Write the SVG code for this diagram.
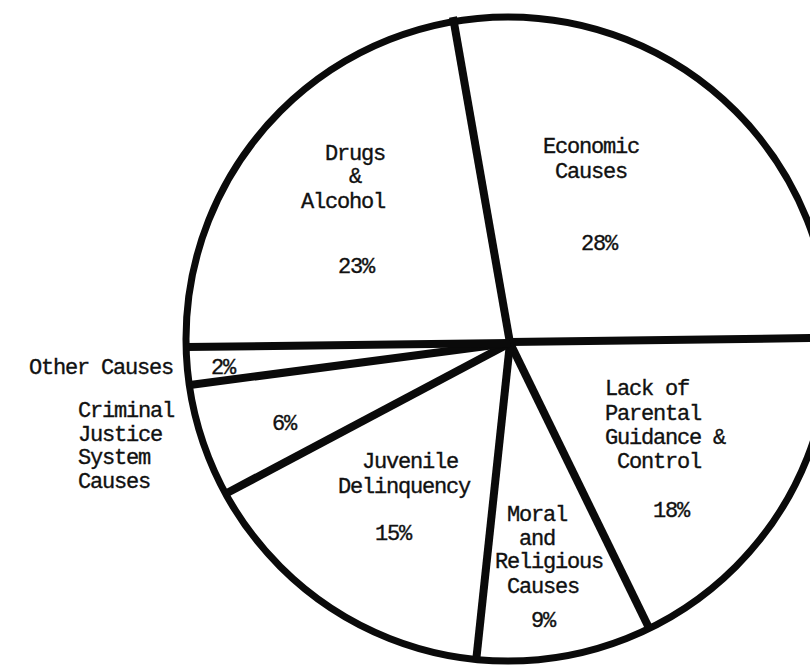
<svg xmlns="http://www.w3.org/2000/svg" width="810" height="665" viewBox="0 0 810 665">
<style>
  .t { font-family: "Liberation Mono", "DejaVu Sans Mono", monospace; font-size: 22px; letter-spacing: -1.2px; fill: #111; stroke: #111; stroke-width: 0.35; }
  .rim { fill: none; stroke: #0a0a0a; stroke-width: 7; }
  .sp { stroke: #0a0a0a; stroke-width: 8; stroke-linecap: butt; }
</style>
<rect width="810" height="665" fill="#ffffff"/>
<g id="pie">
  <ellipse class="rim" cx="508" cy="339" rx="322" ry="322"/>
</g>
<g id="connectors">
  <line class="sp" x1="510" y1="343" x2="453" y2="17"/>
  <line class="sp" x1="510" y1="342" x2="815" y2="338"/>
  <line class="sp" x1="510" y1="343" x2="650" y2="630"/>
  <line class="sp" x1="510" y1="343" x2="476" y2="662"/>
  <line class="sp" x1="510" y1="343" x2="227" y2="493"/>
  <line class="sp" x1="510" y1="343" x2="190" y2="385"/>
  <line class="sp" x1="510" y1="343" x2="186" y2="347"/>
</g>
<g id="drugs">
  <text class="t" x="325" y="160">Drugs</text>
  <text class="t" x="349" y="183">&amp;</text>
  <text class="t" x="301" y="208">Alcohol</text>
  <text class="t" x="338" y="273">23%</text>
</g>
<g id="economic">
  <text class="t" x="543" y="153">Economic</text>
  <text class="t" x="555" y="178">Causes</text>
  <text class="t" x="581" y="250">28%</text>
</g>
<g id="parental">
  <text class="t" x="605" y="395">Lack of</text>
  <text class="t" x="605" y="420">Parental</text>
  <text class="t" x="605" y="444">Guidance &amp;</text>
  <text class="t" x="617" y="468">Control</text>
  <text class="t" x="653" y="517">18%</text>
</g>
<g id="moral">
  <text class="t" x="507" y="521">Moral</text>
  <text class="t" x="519" y="545">and</text>
  <text class="t" x="495" y="568">Religious</text>
  <text class="t" x="507" y="593">Causes</text>
  <text class="t" x="531" y="627">9%</text>
</g>
<g id="juvenile">
  <text class="t" x="362" y="468">Juvenile</text>
  <text class="t" x="338" y="493">Delinquency</text>
  <text class="t" x="375" y="540">15%</text>
</g>
<g id="criminal">
  <text class="t" x="78" y="417">Criminal</text>
  <text class="t" x="78" y="441">Justice</text>
  <text class="t" x="78" y="464">System</text>
  <text class="t" x="78" y="488">Causes</text>
  <text class="t" x="272" y="430">6%</text>
</g>
<g id="other">
  <text class="t" x="29" y="374">Other Causes</text>
  <text class="t" x="211" y="374">2%</text>
</g>
</svg>
